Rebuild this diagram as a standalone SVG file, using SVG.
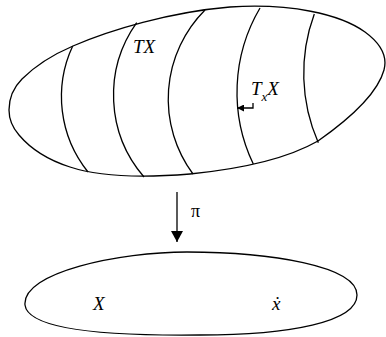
<svg xmlns="http://www.w3.org/2000/svg" width="386" height="337" viewBox="0 0 386 337">
<style>
.l{fill:none;stroke:#000;stroke-width:1.3}
.t{font-family:"Liberation Serif",serif;font-size:19px;font-style:italic;fill:#000}
.p{font-family:"Liberation Serif",serif;font-size:18px;fill:#000}
</style>
<defs>
<marker id="ah" markerWidth="12" markerHeight="12" refX="11" refY="6" orient="auto" markerUnits="userSpaceOnUse">
<path d="M0,0 L11,6 L0,12 Z" fill="#000"/>
</marker>
<marker id="sh" markerWidth="8" markerHeight="7" refX="7" refY="3.5" orient="auto" markerUnits="userSpaceOnUse">
<path d="M0,0 L7,3.5 L0,7 Z" fill="#000"/>
</marker>
</defs>
<g id="bundle">
<path class="l" d="M9,110 C9,96 14,87 22,79 C35,66 52,55 73,46 C110,30 170,12 230,7 C290,3 340,14 365,32 C380,43 388,55 384,70 C378,92 355,115 318,141 C290,157 250,168 190,174 C140,178 100,177 70,167 C48,160 30,148 19,135 C12,127 9,119 9,110 Z"/>
<path class="l" d="M72.7,46 A120,120 0 0 0 88,172"/>
<path class="l" d="M136.7,22.7 A125,125 0 0 0 144,177"/>
<path class="l" d="M205,10 A126,126 0 0 0 193,174"/>
<path class="l" d="M260,8 A166,166 0 0 0 253.3,164"/>
<path class="l" d="M314.3,14 A172,172 0 0 0 318.3,142.7"/>
<text class="t" x="133" y="53">TX</text>
<text class="t" x="251" y="95">T<tspan font-size="13" dy="6">x</tspan><tspan dy="-6">X</tspan></text>
</g>
<g id="base">
<path class="l" d="M25,305 C22,272 120,252 187,252 C270,252 357,266 357,295 C357,322 290,335 200,335 C110,336 28,330 25,305 Z"/>
<text class="t" x="93" y="310">X</text>
<text class="t" x="272" y="310">ẋ</text>
</g>
<g id="connectors">
<path class="l" d="M253,103 L253,108 L237,108" marker-end="url(#sh)"/>
<path class="l" d="M177,192 L177,242" marker-end="url(#ah)"/>
<text class="p" x="191" y="217">π</text>
</g>
</svg>
